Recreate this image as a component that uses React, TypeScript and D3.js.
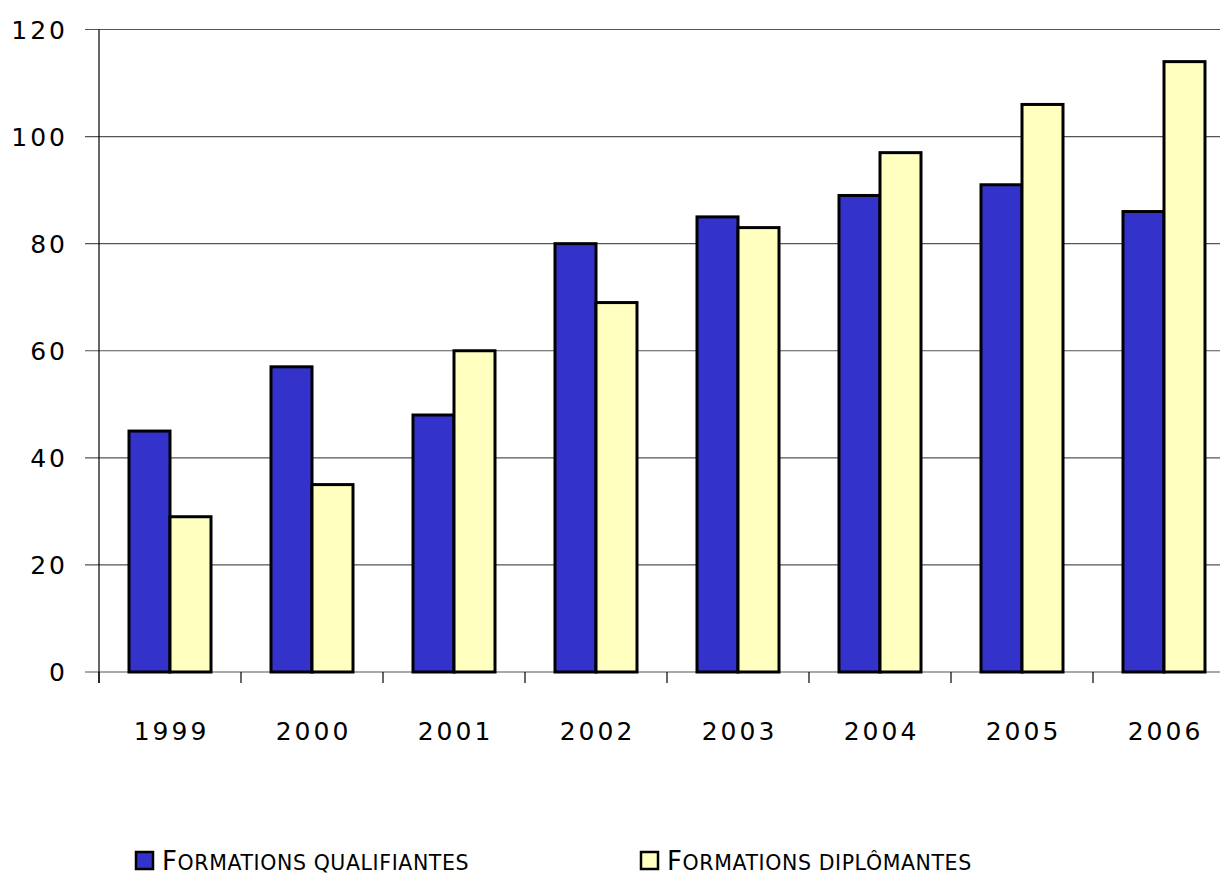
import { useEffect, useRef } from "react";
import * as d3 from "d3";

const years = ["1999", "2000", "2001", "2002", "2003", "2004", "2005", "2006"];
const qualifiantes = [45, 57, 48, 80, 85, 89, 91, 86];
const diplomantes = [29, 35, 60, 69, 83, 97, 106, 114];
const seriesNames = ["Formations qualifiantes", "Formations diplômantes"];
const yTicks = [0, 20, 40, 60, 80, 100, 120];

const colors = ["#3333CC", "#FFFFC0"];

export default function App() {
  const ref = useRef<SVGSVGElement | null>(null);

  useEffect(() => {
    const width = 1220;
    const svg = d3.select(ref.current);
    svg.selectAll("*").remove();

    const font = "'DejaVu Sans', sans-serif";
    const left = 99,
      bandW = 142;

    const x = d3
      .scaleBand<string>()
      .domain(years)
      .range([left, left + bandW * years.length]);
    const y = d3.scaleLinear().domain([0, 120]).range([672, 29.5]);

    // gridlines
    svg
      .append("g")
      .selectAll("line")
      .data(yTicks)
      .enter()
      .append("line")
      .attr("x1", 85)
      .attr("x2", width)
      .attr("y1", d => y(d))
      .attr("y2", d => y(d))
      .attr("stroke", "#555")
      .attr("stroke-width", 1.2);

    // y tick labels
    svg
      .append("g")
      .selectAll("text")
      .data(yTicks)
      .enter()
      .append("text")
      .attr("x", 68)
      .attr("y", d => y(d) + 9)
      .attr("text-anchor", "end")
      .attr("font-family", font)
      .attr("font-size", 25)
      .attr("letter-spacing", 3)
      .text(d => d);

    // y axis line
    svg
      .append("line")
      .attr("x1", left)
      .attr("x2", left)
      .attr("y1", y(120))
      .attr("y2", 683)
      .attr("stroke", "#000")
      .attr("stroke-width", 1.2);

    // category ticks
    svg
      .append("g")
      .selectAll("line")
      .data(years)
      .enter()
      .append("line")
      .attr("x1", d => x(d)!)
      .attr("x2", d => x(d)!)
      .attr("y1", y(0))
      .attr("y2", 683)
      .attr("stroke", "#000")
      .attr("stroke-width", 1.2);

    // bars
    const barW = 41;
    const groupOffset = (bandW - 2 * barW) / 2;
    [qualifiantes, diplomantes].forEach((vals, si) => {
      svg
        .append("g")
        .selectAll("rect")
        .data(vals)
        .enter()
        .append("rect")
        .attr("x", (_, i) => x(years[i])! + groupOffset + si * barW)
        .attr("y", d => y(d))
        .attr("width", barW)
        .attr("height", d => y(0) - y(d))
        .attr("fill", colors[si])
        .attr("stroke", "#000")
        .attr("stroke-width", 3);
    });

    // year labels
    svg
      .append("g")
      .selectAll("text")
      .data(years)
      .enter()
      .append("text")
      .attr("x", d => x(d)! + bandW / 2 + 1.5)
      .attr("y", 740)
      .attr("text-anchor", "middle")
      .attr("font-family", font)
      .attr("font-size", 25)
      .attr("letter-spacing", 3)
      .text(d => d);

    // legend (small caps drawn by hand)
    const legendX = [136, 641];
    seriesNames.forEach((name, i) => {
      svg
        .append("rect")
        .attr("x", legendX[i])
        .attr("y", 852)
        .attr("width", 17)
        .attr("height", 17)
        .attr("fill", colors[i])
        .attr("stroke", "#000")
        .attr("stroke-width", 2.5);
      const t = svg
        .append("text")
        .attr("x", legendX[i] + 26)
        .attr("y", 870)
        .attr("font-family", font)
        .attr("letter-spacing", 0.6);
      t.append("tspan").attr("font-size", 26).text(name[0].toUpperCase());
      t.append("tspan").attr("font-size", 20.5).text(name.slice(1).toUpperCase());
    });
  }, []);

  return (
    <svg
      ref={ref}
      width={1220}
      height={879}
      style={{ position: "absolute", left: 0, top: 0, background: "#fff" }}
    />
  );
}
